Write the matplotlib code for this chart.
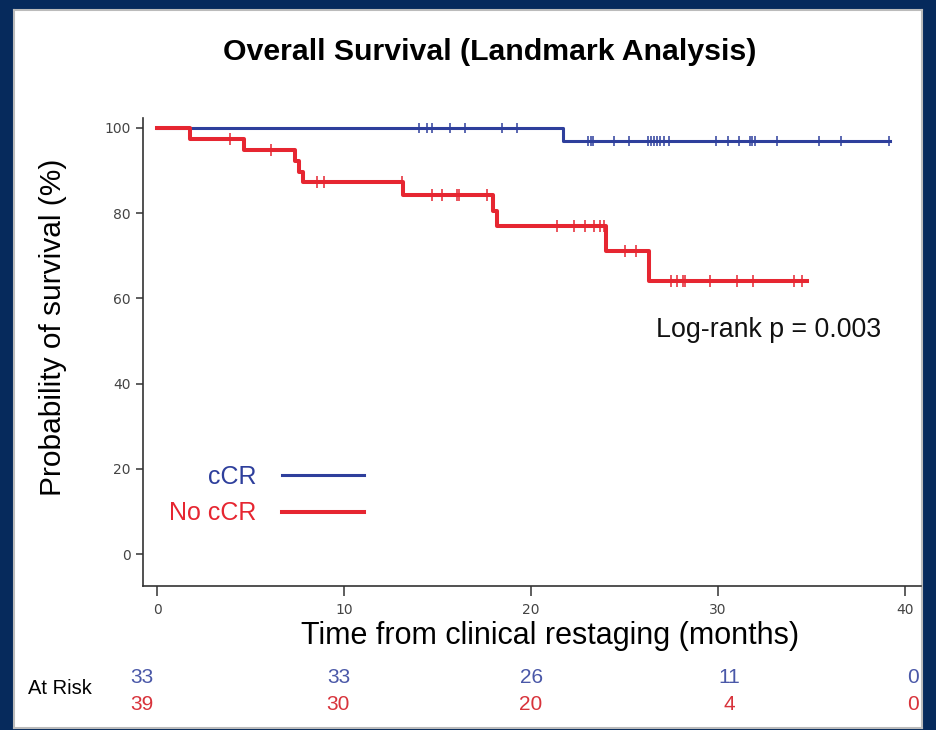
#!/usr/bin/env python3
"""
Kaplan-Meier overall survival (landmark analysis): cCR vs no cCR,
with censor ticks and a numbers-at-risk table under the time axis.
"""
import numpy as np
import matplotlib.pyplot as plt

# step curves (time in months, survival in %)
ccr_times = [0, 21.7, 39.2]
ccr_surv = [100, 97.0, 97.0]
nocr_times = [0, 1.76, 4.67, 7.38, 7.61, 7.79, 13.17, 17.98, 18.16, 24.01, 26.31, 34.74]
nocr_surv = [100, 97.4, 94.9, 92.3, 89.7, 87.2, 84.2, 80.5, 76.9, 71.0, 64.0, 64.0]

# censored observations
ccr_censor = [14.03, 14.45, 14.69, 15.67, 16.47, 18.43, 19.23,
              23.07, 23.18, 23.30, 24.44, 25.24, 26.24, 26.40, 26.56,
              26.74, 26.92, 27.13, 27.40, 29.89, 30.55, 31.10, 31.71,
              31.82, 31.98, 33.14, 35.42, 36.58, 39.16]
nocr_censor = [3.90, 6.08, 8.54, 8.93, 13.08, 14.69, 15.22, 16.03, 16.17,
               17.63, 21.37, 22.30, 22.89, 23.39, 23.66, 23.90, 25.03,
               25.60, 27.47, 27.82, 28.14, 28.25, 29.57, 31.00, 31.89,
               34.08, 34.51]

# numbers at risk
risk_times = [0, 10, 20, 30, 40]
risk_ccr = [33, 33, 26, 11, 0]
risk_nocr = [39, 30, 20, 4, 0]

labels = ['cCR', 'No cCR']
title = 'Overall Survival (Landmark Analysis)'
pvalue_text = 'Log-rank p = 0.003'

BLUE = '#2e3f9c'
RED = '#e62631'
NAVY = '#062a5c'
SANS = ['Liberation Sans', 'DejaVu Sans']


def level_at(times, surv, t):
    idx = np.searchsorted(np.asarray(times), t, side='right') - 1
    return np.asarray(surv)[idx]


def main():
    fig = plt.figure(figsize=(9.36, 7.30), dpi=100, facecolor=NAVY)

    # white slide panel
    panel = fig.add_axes([14 / 936, 1 - 728 / 730, 908 / 936, 718 / 730])
    panel.set_facecolor('white')
    for s in panel.spines.values():
        s.set_color('#bbbbbb')
        s.set_linewidth(1.5)
    panel.set_xticks([])
    panel.set_yticks([])
    panel.set_zorder(0)

    ax = fig.add_axes([143 / 936, 1 - 586 / 730, 778 / 936, 468 / 730])
    ax.set_zorder(1)
    ax.patch.set_alpha(0)

    ax.step(ccr_times, ccr_surv, where='post', color=BLUE, lw=2.2,
            label=labels[0])
    ax.step(nocr_times, nocr_surv, where='post', color=RED, lw=2.9,
            label=labels[1])
    ax.plot(ccr_censor, level_at(ccr_times, ccr_surv, ccr_censor), ls='none',
            marker='|', ms=7.5, mew=1.1, color=BLUE)
    ax.plot(nocr_censor, level_at(nocr_times, nocr_surv, nocr_censor), ls='none',
            marker='|', ms=8, mew=1.1, color=RED)

    ax.set_xlim(-0.75, 40.85)
    ax.set_ylim(-7.5, 102.3)
    ax.set_xticks(risk_times)
    ax.set_yticks([0, 20, 40, 60, 80, 100])
    for side in ('top', 'right'):
        ax.spines[side].set_visible(False)
    for side in ('left', 'bottom'):
        ax.spines[side].set_color('#333333')
        ax.spines[side].set_linewidth(1.2)
    ax.tick_params(axis='y', direction='out', length=5, width=1.1,
                   color='#333333', labelsize=10, labelcolor='#444444', pad=4)
    ax.tick_params(axis='x', direction='out', length=7, width=1.1,
                   color='#333333', labelsize=10, labelcolor='#444444', pad=5)

    ax.set_xlabel('Time from clinical restaging (months)', family=SANS,
                  fontsize=22, labelpad=3)
    ax.xaxis.set_label_coords(0.523, -0.0745)
    ax.set_ylabel('Probability of survival (%)', family=SANS, fontsize=21.5)
    ax.yaxis.set_label_coords(-0.098, 0.553)
    fig.text(490 / 936, 1 - 52 / 730, title, family=SANS, fontsize=21.8,
             fontweight='bold', ha='center', va='center')

    leg = ax.legend(loc='lower left', bbox_to_anchor=(0.005, 0.0815),
                    frameon=False, markerfirst=False, handlelength=3.3,
                    handletextpad=1.0, labelspacing=0.5,
                    prop={'family': SANS, 'size': 18})
    for txt, c in zip(leg.get_texts(), [BLUE, RED]):
        txt.set_color(c)

    ax.text(26.7, 52.5, pvalue_text, family=SANS, fontsize=19.3,
            ha='left', va='center', color='#111111')

    # at-risk table below the axis
    risk_dx = [-0.8, -0.3, 0.0, 0.6, 0.4]
    trans = ax.get_xaxis_transform()
    for t, dx, a, b in zip(risk_times, risk_dx, risk_ccr, risk_nocr):
        ax.text(t + dx, -0.195, str(a), transform=trans, ha='center',
                va='center', fontsize=15, color='#4a58a8',
                family=['Liberation Sans Narrow'] + SANS, clip_on=False)
        ax.text(t + dx, -0.253, str(b), transform=trans, ha='center',
                va='center', fontsize=15, color='#d8333b',
                family=['Liberation Sans Narrow'] + SANS, clip_on=False)
    fig.text(60 / 936, 1 - 688 / 730, 'At Risk', family=SANS, fontsize=14.5,
             ha='center', va='center')

    fig.savefig('out.png', dpi=100, facecolor=NAVY)


if __name__ == '__main__':
    main()
